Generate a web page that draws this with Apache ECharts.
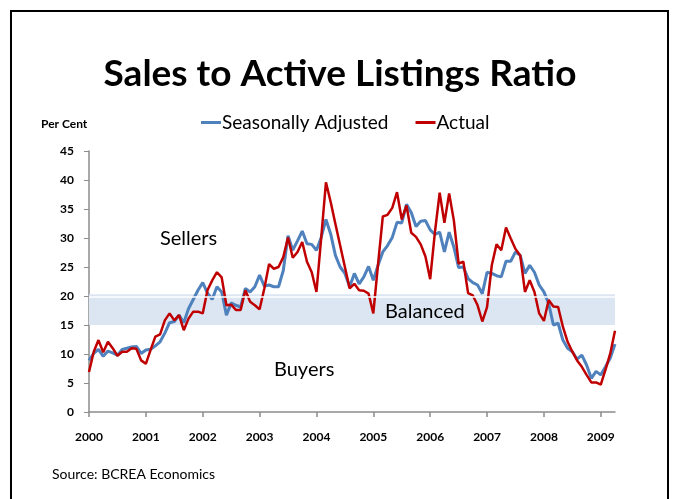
<!DOCTYPE html>
<html>
<head>
<meta charset="utf-8">
<script src="https://cdn.jsdelivr.net/npm/echarts@6/dist/echarts.min.js"></script>
<style>
  html, body { margin: 0; padding: 0; background: #fff; }
  #chart { width: 680px; height: 499px; }
</style>
</head>
<body>
<div id="chart"></div>
<script>
// monthly, Jan 2000 - Apr 2009
const years = ['2000', '2001', '2002', '2003', '2004', '2005', '2006', '2007', '2008', '2009'];
const monthCount = 112;

const seasonallyAdjusted = [
  8.9, 10.1, 10.8, 9.6, 10.5, 10.2, 9.8, 10.8, 11.0, 11.2, 11.3, 10.1,
  10.7, 10.8, 11.4, 12.1, 13.6, 15.4, 15.6, 16.7, 15.4, 17.8, 19.4, 21.0,
  22.3, 20.5, 19.4, 21.6, 20.7, 16.7, 18.8, 18.4, 18.1, 21.3, 20.7, 21.6,
  23.6, 21.7, 21.9, 21.6, 21.6, 24.4, 30.4, 27.9, 29.5, 31.2, 29.0, 28.9,
  27.9, 30.1, 33.2, 30.7, 27.0, 25.0, 23.9, 21.6, 23.9, 22.1, 23.3, 25.1,
  22.7, 25.3, 27.6, 28.7, 30.1, 32.7, 32.6, 35.8, 34.4, 32.0, 32.9, 33.0,
  31.4, 30.6, 31.0, 27.6, 31.0, 28.4, 24.9, 25.0, 23.0, 22.3, 21.9, 20.4,
  24.1, 23.9, 23.5, 23.3, 26.0, 26.0, 27.6, 27.0, 23.9, 25.3, 24.1, 21.9,
  20.7, 18.7, 15.0, 15.3, 12.4, 11.0, 10.4, 9.1, 9.8, 8.1, 5.8, 7.0,
  6.4, 7.8, 9.3, 11.7
];

const actual = [
  6.9, 10.4, 12.4, 10.3, 12.1, 11.0, 9.7, 10.4, 10.4, 11.0, 10.9, 8.9,
  8.3, 10.7, 13.0, 13.4, 15.8, 17.0, 15.8, 16.7, 14.1, 16.1, 17.3, 17.3,
  17.0, 21.0, 22.7, 24.1, 23.2, 18.4, 18.5, 17.6, 17.6, 21.0, 19.0, 18.4,
  17.7, 21.3, 25.5, 24.7, 25.0, 26.7, 30.1, 26.6, 27.6, 29.3, 25.9, 24.1,
  20.7, 30.0, 39.6, 36.2, 32.4, 28.7, 25.0, 21.3, 22.1, 21.0, 20.9, 20.4,
  17.0, 25.5, 33.7, 34.0, 35.2, 37.9, 33.2, 35.6, 30.9, 30.2, 28.9, 26.8,
  22.9, 31.0, 37.8, 32.6, 37.7, 33.0, 25.6, 25.9, 20.5, 20.1, 18.4, 15.6,
  18.1, 25.3, 28.9, 27.9, 31.8, 29.9, 28.1, 27.0, 20.7, 22.7, 20.7, 17.0,
  15.7, 19.3, 18.2, 18.1, 14.7, 12.1, 10.4, 8.9, 7.8, 6.4, 5.1, 5.1,
  4.7, 7.3, 10.1, 14.0
];

const balancedBand = [15, 20.3];
const marketLabels = ['Sellers', 'Balanced', 'Buyers'];

const months = [];
years.forEach(y => {
  for (let m = 1; m <= 12; m++) {
    if (months.length < monthCount) months.push(y + '-' + m);
  }
});

const font = 'Lato, "Open Sans", sans-serif';
const chart = echarts.init(document.getElementById('chart'));

chart.setOption({
  animation: false,
  backgroundColor: '#fff',
  textStyle: { fontFamily: font },
  title: {
    text: 'Sales to Active Listings Ratio',
    left: 'center',
    top: 51,
    textStyle: { fontFamily: font, fontSize: 37, fontWeight: 'bold', color: '#000' }
  },
  legend: {
    top: 108,
    left: 196,
    icon: 'rect',
    itemWidth: 20,
    itemHeight: 3,
    itemGap: 27,
    textStyle: { fontFamily: font, fontSize: 19, color: '#000', padding: [0, 0, 0, -4] },
    data: ['Seasonally Adjusted', 'Actual']
  },
  grid: { left: 89, right: 65, top: 151, bottom: 87 },
  xAxis: {
    type: 'category',
    data: months,
    boundaryGap: false,
    axisLine: { lineStyle: { color: '#8c8c8c', width: 1.5 } },
    axisTick: {
      length: 5,
      interval: (i) => i % 12 === 0,
      lineStyle: { color: '#8c8c8c', width: 1.5 }
    },
    axisLabel: {
      interval: (i) => i % 12 === 0,
      formatter: (v) => v.slice(0, 4),
      margin: 19,
      fontFamily: font,
      fontSize: 12,
      fontWeight: 'bold',
      color: '#000'
    },
    splitLine: { show: false }
  },
  yAxis: {
    type: 'value',
    min: 0,
    max: 45,
    interval: 5,
    axisLine: { show: true, lineStyle: { color: '#8c8c8c', width: 1.5 } },
    axisTick: { show: true, length: 5, lineStyle: { color: '#8c8c8c' } },
    axisLabel: {
      margin: 15,
      fontFamily: font,
      fontSize: 12,
      fontWeight: 'bold',
      color: '#000'
    },
    splitLine: { show: false }
  },
  graphic: [
    {
      type: 'rect',
      shape: { x: 11, y: 11, width: 657, height: 500 },
      style: { fill: 'none', stroke: '#000', lineWidth: 2 },
      silent: true
    },
    {
      type: 'text', left: 41, top: 118, z: 100,
      style: { text: 'Per Cent', fontFamily: font, fontSize: 12, fontWeight: 'bold', fill: '#000' }
    },
    {
      type: 'text', left: 160, top: 229, z: 100,
      style: { text: marketLabels[0], fontFamily: font, fontSize: 20, fill: '#000' }
    },
    {
      type: 'text', left: 385, top: 302, z: 100,
      style: { text: marketLabels[1], fontFamily: font, fontSize: 20, fill: '#000' }
    },
    {
      type: 'text', left: 274, top: 360, z: 100,
      style: { text: marketLabels[2], fontFamily: font, fontSize: 20, fill: '#000' }
    },
    {
      type: 'text', left: 52, top: 467, z: 100,
      style: { text: 'Source: BCREA Economics', fontFamily: font, fontSize: 14, fill: '#000' }
    }
  ],
  series: [
    {
      name: 'Seasonally Adjusted',
      type: 'line',
      data: seasonallyAdjusted,
      showSymbol: false,
      lineStyle: { color: '#4f81bd', width: 3 },
      itemStyle: { color: '#4f81bd' },
      z: 2,
      markArea: {
        silent: true,
        itemStyle: { color: '#dce6f2' },
        data: [[{ yAxis: balancedBand[0] }, { yAxis: balancedBand[1] }]]
      },
      markLine: {
        silent: true,
        symbol: 'none',
        label: { show: false },
        lineStyle: { color: '#fff', width: 1.5, type: 'solid' },
        data: [{ yAxis: 19.95 }]
      }
    },
    {
      name: 'Actual',
      type: 'line',
      data: actual,
      showSymbol: false,
      lineStyle: { color: '#c00000', width: 2.5 },
      itemStyle: { color: '#c00000' },
      z: 3
    }
  ]
});
</script>
</body>
</html>
